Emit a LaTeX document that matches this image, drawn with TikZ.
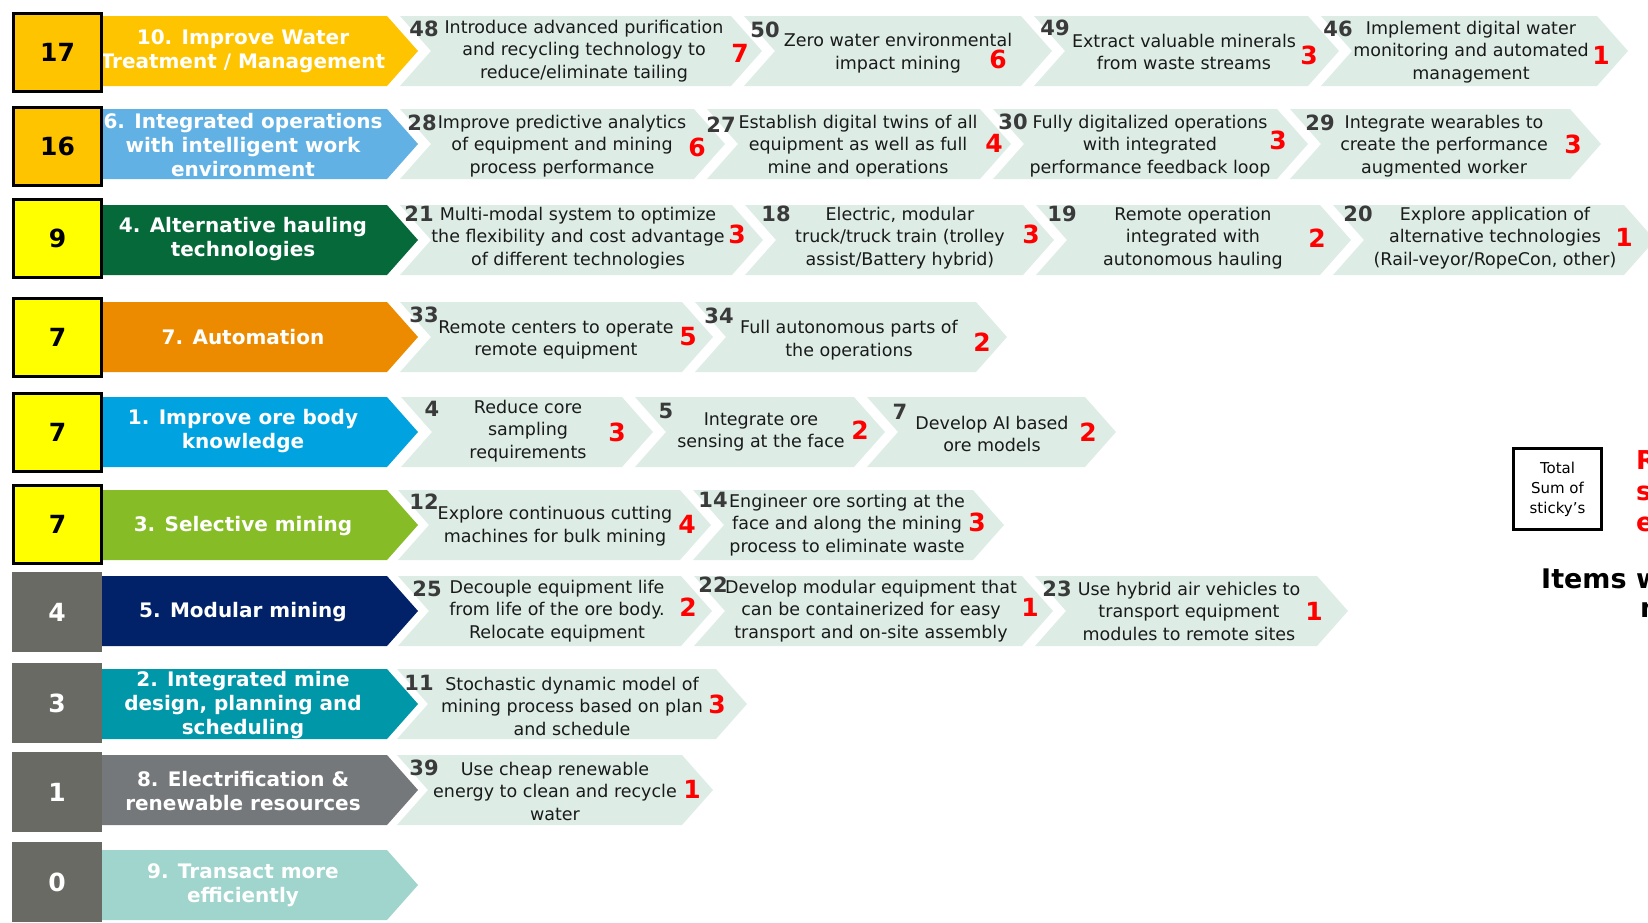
\documentclass[tikz,border=0pt]{standalone}
\usepackage{fontspec}
\setmainfont{DejaVu Sans}
\usetikzlibrary{positioning}

\definecolor{itembg}{HTML}{DDEDE6}
\definecolor{numgray}{HTML}{3A3A3A}
\definecolor{txtblack}{HTML}{1A1A1A}
\definecolor{scoregray}{HTML}{696A64}
\definecolor{gold}{HTML}{FFC400}
\definecolor{lemon}{HTML}{FFFF00}
\definecolor{skyblue}{HTML}{62B1E5}
\definecolor{darkgreen}{HTML}{06693A}
\definecolor{orange}{HTML}{ED8B00}
\definecolor{brightblue}{HTML}{00A3E0}
\definecolor{limegreen}{HTML}{86BC25}
\definecolor{navy}{HTML}{012169}
\definecolor{teal}{HTML}{0097A9}
\definecolor{slate}{HTML}{75787B}
\definecolor{mint}{HTML}{A0D5CE}
\definecolor{scorered}{HTML}{FF0000}

\tikzset{
  headtxt/.style={text=white, align=center, inner sep=0pt, font=\bfseries\fontsize{20}{24}\selectfont},
  itemtxt/.style={text=txtblack, align=center, inner sep=0pt, font=\fontsize{17.5}{22.5}\selectfont},
  itemnum/.style={text=numgray, inner sep=0pt, font=\bfseries\fontsize{21}{24}\selectfont},
  itemscore/.style={text=scorered, inner sep=0pt, font=\bfseries\fontsize{25}{28}\selectfont},
  scorebox/.style={draw=black, line width=3pt, minimum width=88pt, minimum height=78pt, inner sep=0pt, font=\bfseries\fontsize{25}{30}\selectfont},
  grayscore/.style={fill=scoregray, text=white, minimum width=90pt, minimum height=80pt, inner sep=0pt, font=\bfseries\fontsize{25}{30}\selectfont},
}

% heading arrow: name, colour, mid y
\newcommand{\headband}[3]{%
  \fill[#2] (102,#3-35) -- (387,#3-35) -- (418,#3) -- (387,#3+35) -- (102,#3+35) -- cycle;
  \coordinate (#1) at (243,#3);}

% item chevron: name, left x, tip x, mid y
\newcommand{\itemchev}[4]{%
  \fill[itembg] (#2,#4-35) -- (#3-31,#4-35) -- (#3,#4) -- (#3-31,#4+35) -- (#2,#4+35) -- (#2+31,#4) -- cycle;
  \coordinate (#1) at ({(#2+#3)/2},#4);}

\begin{document}
\begin{tikzpicture}[x=1pt, y=-1pt]

    \useasboundingbox (0,0) rectangle (1648,922);

    % heading arrows
    \headband{r10}{gold}{51}
    \headband{r6}{skyblue}{144}
    \headband{r4}{darkgreen}{240}
    \headband{r7}{orange}{337}
    \headband{r1}{brightblue}{432}
    \headband{r3}{limegreen}{525}
    \headband{r5}{navy}{611}
    \headband{r2}{teal}{704}
    \headband{r8}{slate}{790}
    \headband{r9}{mint}{885}

    \node[headtxt] (h10) at (243,51) {10. Improve Water\\Treatment / Management};
    \node[headtxt] (h6) at (243,145) {6. Integrated operations\\with intelligent work\\environment};
    \node[headtxt] (h4) at (243,239) {4. Alternative hauling\\technologies};
    \node[headtxt] (h7) at (243,337) {7. Automation};
    \node[headtxt] (h1) at (243,431) {1. Improve ore body\\knowledge};
    \node[headtxt] (h3) at (243,526) {3. Selective mining};
    \node[headtxt] (h5) at (243,612) {5. Modular mining};
    \node[headtxt] (h2) at (243,705) {2. Integrated mine\\design, planning and\\scheduling};
    \node[headtxt] (h8) at (243,791) {8. Electrification \&\\renewable resources};
    \node[headtxt] (h9) at (243,885) {9. Transact more\\efficiently};

    % row 10: water
    \itemchev{c48}{400}{762}{51}
    \itemchev{c50}{744}{1052}{51}
    \itemchev{c49}{1034}{1339}{51}
    \itemchev{c46}{1321}{1628}{51}
    \node[itemnum] (n48) at (424,29) {48};
    \node[itemtxt] (t48) at (584,51) {Introduce advanced purification\\and recycling technology to\\reduce/eliminate tailing};
    \node[itemscore] (s48) at (740,53) {7};
    \node[itemnum] (n50) at (765,30) {50};
    \node[itemtxt] (t50) at (898,53) {Zero water environmental\\impact mining};
    \node[itemscore] (s50) at (998,59) {6};
    \node[itemnum] (n49) at (1055,28) {49};
    \node[itemtxt] (t49) at (1184,52) {Extract valuable minerals\\from waste streams};
    \node[itemscore] (s49) at (1309,55) {3};
    \node[itemnum] (n46) at (1338,29) {46};
    \node[itemtxt] (t46) at (1471,52) {Implement digital water\\monitoring and automated\\management};
    \node[itemscore] (s46) at (1601,55) {1};

    % row 6: integrated operations
    \itemchev{c28}{400}{725}{144}
    \itemchev{c27}{707}{1011}{144}
    \itemchev{c30}{993}{1308}{144}
    \itemchev{c29}{1290}{1601}{144}
    \node[itemnum] (n28) at (422,123) {28};
    \node[itemtxt] (t28) at (562,146) {Improve predictive analytics\\of equipment and mining\\process performance};
    \node[itemscore] (s28) at (697,147) {6};
    \node[itemnum] (n27) at (721,125) {27};
    \node[itemtxt] (t27) at (858,146) {Establish digital twins of all\\equipment as well as full\\mine and operations};
    \node[itemscore] (s27) at (994,143) {4};
    \node[itemnum] (n30) at (1013,122) {30};
    \node[itemtxt] (t30) at (1150,146) {Fully digitalized operations\\with integrated\\performance feedback loop};
    \node[itemscore] (s30) at (1278,140) {3};
    \node[itemnum] (n29) at (1320,123) {29};
    \node[itemtxt] (t29) at (1444,146) {Integrate wearables to\\create the performance\\augmented worker};
    \node[itemscore] (s29) at (1573,144) {3};

    % row 4: hauling
    \itemchev{c21}{400}{763}{240}
    \itemchev{c18}{745}{1054}{240}
    \itemchev{c19}{1036}{1351}{240}
    \itemchev{c20}{1333}{1655}{240}
    \node[itemnum] (n21) at (419,214) {21};
    \node[itemtxt] (t21) at (578,238) {Multi-modal system to optimize\\the flexibility and cost advantage\\of different technologies};
    \node[itemscore] (s21) at (737,234) {3};
    \node[itemnum] (n18) at (776,214) {18};
    \node[itemtxt] (t18) at (900,238) {Electric, modular\\truck/truck train (trolley\\assist/Battery hybrid)};
    \node[itemscore] (s18) at (1031,234) {3};
    \node[itemnum] (n19) at (1062,214) {19};
    \node[itemtxt] (t19) at (1193,238) {Remote operation\\integrated with\\autonomous hauling};
    \node[itemscore] (s19) at (1317,238) {2};
    \node[itemnum] (n20) at (1358,214) {20};
    \node[itemtxt] (t20) at (1495,238) {Explore application of\\alternative technologies\\(Rail-veyor/RopeCon, other)};
    \node[itemscore] (s20) at (1624,237) {1};

    % row 7: automation
    \itemchev{c33}{400}{713}{337}
    \itemchev{c34}{695}{1007}{337}
    \node[itemnum] (n33) at (424,315) {33};
    \node[itemtxt] (t33) at (556,340) {Remote centers to operate\\remote equipment};
    \node[itemscore] (s33) at (688,337) {5};
    \node[itemnum] (n34) at (719,316) {34};
    \node[itemtxt] (t34) at (849,340) {Full autonomous parts of\\the operations};
    \node[itemscore] (s34) at (982,342) {2};

    % row 1: ore body
    \itemchev{c4}{401}{653}{432}
    \itemchev{c5}{635}{885}{432}
    \itemchev{c7}{867}{1116}{432}
    \node[itemnum] (n4) at (432,409) {4};
    \node[itemtxt] (t4) at (528,431) {Reduce core\\sampling\\requirements};
    \node[itemscore] (s4) at (617,432) {3};
    \node[itemnum] (n5) at (666,411) {5};
    \node[itemtxt] (t5) at (761,432) {Integrate ore\\sensing at the face};
    \node[itemscore] (s5) at (860,430) {2};
    \node[itemnum] (n7) at (900,412) {7};
    \node[itemtxt] (t7) at (992,434) {Develop AI based\\ore models};
    \node[itemscore] (s7) at (1088,432) {2};

    % row 3: selective mining
    \itemchev{c12}{398}{711}{525}
    \itemchev{c14}{693}{1004}{525}
    \node[itemnum] (n12) at (424,502) {12};
    \node[itemtxt] (t12) at (555,526) {Explore continuous cutting\\machines for bulk mining};
    \node[itemscore] (s12) at (687,524) {4};
    \node[itemnum] (n14) at (713,500) {14};
    \node[itemtxt] (t14) at (847,525) {Engineer ore sorting at the\\face and along the mining\\process to eliminate waste};
    \node[itemscore] (s14) at (977,522) {3};

    % row 5: modular mining
    \itemchev{c25}{398}{712}{611}
    \itemchev{c22}{694}{1053}{611}
    \itemchev{c23}{1035}{1348}{611}
    \node[itemnum] (n25) at (427,589) {25};
    \node[itemtxt] (t25) at (557,611) {Decouple equipment life\\from life of the ore body.\\Relocate equipment};
    \node[itemscore] (s25) at (688,607) {2};
    \node[itemnum] (n22) at (713,585) {22};
    \node[itemtxt] (t22) at (871,611) {Develop modular equipment that\\can be containerized for easy\\transport and on-site assembly};
    \node[itemscore] (s22) at (1030,607) {1};
    \node[itemnum] (n23) at (1057,589) {23};
    \node[itemtxt] (t23) at (1189,611) {Use hybrid air vehicles to\\transport equipment\\modules to remote sites};
    \node[itemscore] (s23) at (1314,611) {1};

    % row 2: mine design
    \itemchev{c11}{397}{747}{704}
    \node[itemnum] (n11) at (419,683) {11};
    \node[itemtxt] (t11) at (572,706) {Stochastic dynamic model of\\mining process based on plan\\and schedule};
    \node[itemscore] (s11) at (717,704) {3};

    % row 8: electrification
    \itemchev{c39}{397}{713}{790}
    \node[itemnum] (n39) at (424,768) {39};
    \node[itemtxt] (t39) at (555,791) {Use cheap renewable\\energy to clean and recycle\\water};
    \node[itemscore] (s39) at (692,789) {1};

    % score boxes (drawn last, over the heading text)
    \node[scorebox, fill=gold] (b10) at (57.5,52.5) {17};
    \node[scorebox, fill=gold] (b6) at (57.5,146) {16};
    \node[scorebox, fill=lemon] (b4) at (57.5,238) {9};
    \node[scorebox, fill=lemon] (b7) at (57.5,337) {7};
    \node[scorebox, fill=lemon] (b1) at (57.5,432) {7};
    \node[scorebox, fill=lemon] (b3) at (57.5,524) {7};
    \node[grayscore] (b5) at (57,612) {4};
    \node[grayscore] (b2) at (57,703) {3};
    \node[grayscore] (b8) at (57,792) {1};
    \node[grayscore] (b9) at (57,882) {0};

    % legend
    \node[draw=black, line width=3pt, minimum width=88pt, minimum height=81pt, inner sep=0pt, align=center, font=\fontsize{15}{20}\selectfont] (legend) at (1557.5,489) {Total\\Sum of\\sticky’s};
    \node[anchor=west, inner sep=0pt, align=left, text=scorered, font=\bfseries\fontsize{26}{31}\selectfont] (legred) at (1636,491) {R\\s\\e};
    \node[anchor=west, inner sep=0pt, font=\bfseries\fontsize{27}{31}\selectfont] (items) at (1541,579) {Items w};
    \node[anchor=west, inner sep=0pt, font=\bfseries\fontsize{27}{31}\selectfont] (items2) at (1640,610) {n};

\end{tikzpicture}
\end{document}
